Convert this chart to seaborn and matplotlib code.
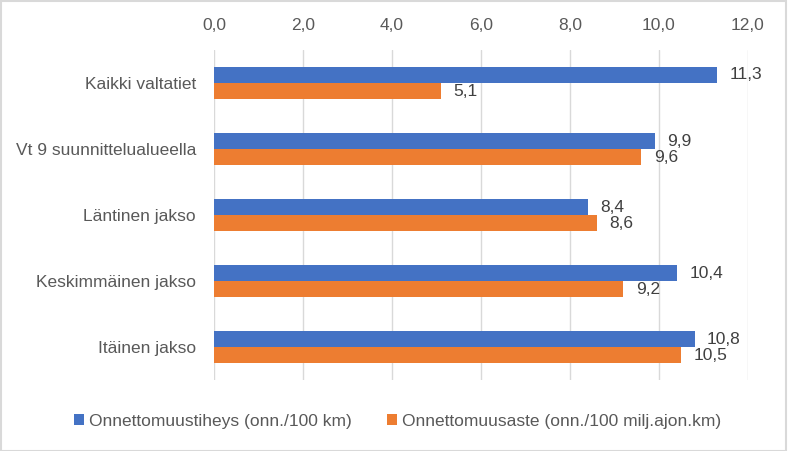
import matplotlib
matplotlib.use("Agg")
import matplotlib.pyplot as plt
import seaborn as sns
import pandas as pd
from matplotlib.patches import Rectangle

categories = ["Kaikki valtatiet", "Vt 9 suunnittelualueella", "Läntinen jakso",
              "Keskimmäinen jakso", "Itäinen jakso"]
series_names = ["Onnettomuustiheys (onn./100 km)", "Onnettomuusaste (onn./100 milj.ajon.km)"]
tiheys = [11.3, 9.9, 8.4, 10.4, 10.8]
aste = [5.1, 9.6, 8.6, 9.2, 10.5]
xticks = [0, 2, 4, 6, 8, 10, 12]
colors = ["#4472C4", "#ED7D31"]

df = pd.DataFrame({
    "cat": categories * 2,
    "series": [series_names[0]] * len(categories) + [series_names[1]] * len(categories),
    "value": tiheys + aste,
})

sns.set_style("white")
plt.rcParams["font.family"] = ["Liberation Sans", "DejaVu Sans"]
FS = 12.5

fig = plt.figure(figsize=(7.88, 4.51), dpi=100)
ax = fig.add_axes([0.2716, 0.157, 0.9492 - 0.2716, 0.889 - 0.157])

sns.barplot(data=df, y="cat", x="value", hue="series", orient="h",
            palette=colors, width=0.49, ax=ax, saturation=1, legend=True,
            linewidth=0, edgecolor="none")

ax.set_xlim(0, 12)
ax.set_xticks(xticks)
ax.set_xticklabels([f"{t:.1f}".replace(".", ",") for t in xticks])
ax.xaxis.tick_top()
ax.tick_params(axis="x", length=0, pad=12, labelsize=FS, colors="#595959")
ax.tick_params(axis="y", length=0, pad=13, labelsize=FS, colors="#595959")
ax.set_xlabel("")
ax.set_ylabel("")
ax.grid(axis="x", color="#D9D9D9", linewidth=1)
ax.set_axisbelow(True)
for s in ax.spines.values():
    s.set_visible(False)
ax.set_ylim(len(categories) - 0.5, -0.5)

for cont in ax.containers:
    ax.bar_label(cont, labels=[f"{v:.1f}".replace(".", ",") for v in cont.datavalues],
                 padding=9, fontsize=FS, color="#404040")

leg = ax.legend(loc="center", bbox_to_anchor=(0.5044, 0.066),
                bbox_transform=fig.transFigure, ncol=2, frameon=False, fontsize=FS,
                handlelength=0.6, handleheight=0.6, columnspacing=2.0, handletextpad=0.3,
                borderpad=0, borderaxespad=0)
for t in leg.get_texts():
    t.set_color("#595959")

fig.patches.append(Rectangle((0.001, 0.001), 0.997, 0.997, transform=fig.transFigure,
                             fill=False, edgecolor="#D9D9D9", linewidth=1.5))

fig.savefig("out.png", dpi=100)
